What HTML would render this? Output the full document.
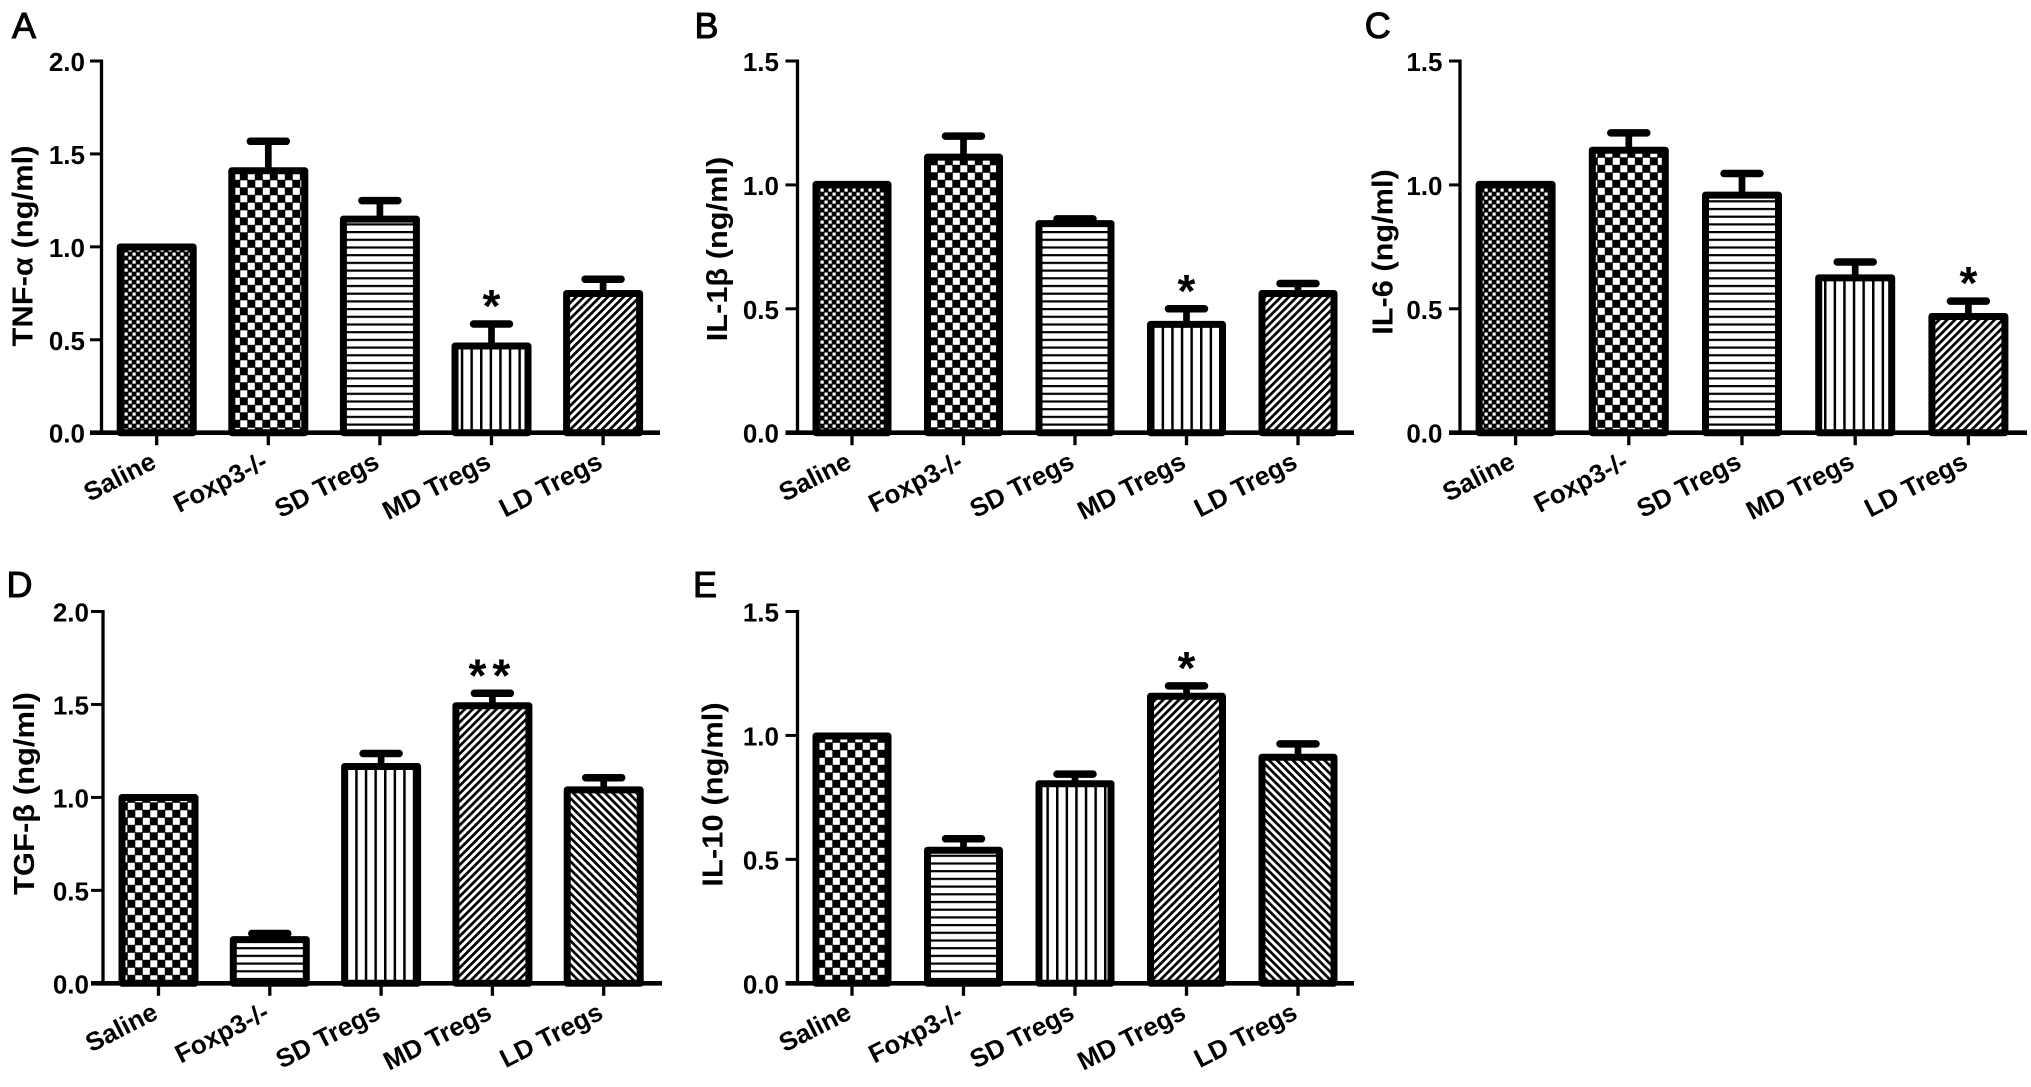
<!DOCTYPE html>
<html lang="en">
<head>
<meta charset="utf-8">
<title>Cytokine levels by treatment group</title>
<style>
html,body{margin:0;padding:0;background:#fff;width:2031px;height:1087px;overflow:hidden}
svg{display:block}
text{font-family:"Liberation Sans",sans-serif;fill:#000}
.tick{font-size:26px;font-weight:bold}
.cat{font-size:26px;font-weight:bold}
.ylab{font-size:29px;font-weight:bold}
.letter{font-size:36px;stroke:#000;stroke-width:1px}
.star{font-size:46px;font-weight:bold}
</style>
</head>
<body>
<svg id="figure" xmlns="http://www.w3.org/2000/svg" width="2031" height="1087" viewBox="0 0 2031 1087">
  <defs>
    <pattern id="fineCheck" patternUnits="userSpaceOnUse" width="8" height="8">
      <rect width="8" height="8" fill="#000"/>
      <rect x="0.5" y="0.5" width="3.2" height="3.2" fill="#fff"/>
      <rect x="4.5" y="4.5" width="3.2" height="3.2" fill="#fff"/>
    </pattern>
    <pattern id="coarseCheck" patternUnits="userSpaceOnUse" width="15" height="15">
      <rect width="15" height="15" fill="#000"/>
      <rect x="0.3" y="0.3" width="7" height="7" fill="#fff"/>
      <rect x="7.8" y="7.8" width="7" height="7" fill="#fff"/>
    </pattern>
    <pattern id="horizontal" patternUnits="userSpaceOnUse" width="10" height="7.7">
      <rect width="10" height="7.7" fill="#fff"/>
      <rect y="0" width="10" height="2.2" fill="#000"/>
    </pattern>
    <pattern id="vertical" patternUnits="userSpaceOnUse" width="9.6" height="10">
      <rect width="9.6" height="10" fill="#fff"/>
      <rect x="0" width="2.5" height="10" fill="#000"/>
    </pattern>
    <pattern id="diagUp" patternUnits="userSpaceOnUse" width="5.6" height="10" patternTransform="rotate(45)">
      <rect width="5.6" height="10" fill="#fff"/>
      <rect width="2.7" height="10" fill="#000"/>
    </pattern>
    <pattern id="diagDown" patternUnits="userSpaceOnUse" width="5.6" height="10" patternTransform="rotate(-45)">
      <rect width="5.6" height="10" fill="#fff"/>
      <rect width="2.7" height="10" fill="#000"/>
    </pattern>
  </defs>
</svg>
<script>
// ---- chart data ----
const categories = ['Saline', 'Foxp3-/-', 'SD Tregs', 'MD Tregs', 'LD Tregs'];

const ticksTo2 = [0, 0.5, 1, 1.5, 2];
const ticksTo15 = [0, 0.5, 1, 1.5];

const meansA = [1.01, 1.42, 1.16, 0.477, 0.76];
const errTopsA = [null, 1.568, 1.249, 0.585, 0.826];
const starsA = ['', '', '', '*', ''];

const meansB = [1.01, 1.12, 0.852, 0.445, 0.57];
const errTopsB = [null, 1.197, 0.863, 0.50, 0.602];
const starsB = ['', '', '', '*', ''];

const meansC = [1.01, 1.148, 0.967, 0.633, 0.477];
const errTopsC = [null, 1.21, 1.046, 0.689, 0.531];
const starsC = ['', '', '', '', '*'];

const meansD = [1.01, 0.246, 1.177, 1.504, 1.051];
const errTopsD = [null, 0.268, 1.236, 1.56, 1.106];
const starsD = ['', '', '', '**', ''];

const meansE = [1.006, 0.545, 0.813, 1.166, 0.92];
const errTopsE = [null, 0.583, 0.844, 1.2, 0.966];
const starsE = ['', '', '', '*', ''];

// ---- panel layout ----
const panels = [
  {id:'a', letter:'A', lx:12, ly:38, title:'TNF-\u03b1 (ng/ml)', tx:32.5, tc:246, tl:201, means:meansA, errs:errTopsA, stars:starsA, ticks:ticksTo2, max:2,
   ax:101.5, top:61, base:432.7, right:660, c0:156.7, step:111.6, bw:80, tickLen:11.5, gap:16.5,
   fills:['fineCheck','coarseCheck','horizontal','vertical','diagUp']},
  {id:'b', letter:'B', lx:694.5, ly:38, title:'IL-1\u03b2 (ng/ml)', tx:727, tc:249, tl:184.5, means:meansB, errs:errTopsB, stars:starsB, ticks:ticksTo15, max:1.5,
   ax:797.5, top:61, base:432.7, right:1354, c0:852, step:111.5, bw:79, tickLen:12, gap:18.5,
   fills:['fineCheck','coarseCheck','horizontal','vertical','diagUp']},
  {id:'c', letter:'C', lx:1364.7, ly:38, title:'IL-6 (ng/ml)', tx:1392.5, tc:252, tl:165.5, means:meansC, errs:errTopsC, stars:starsC, ticks:ticksTo15, max:1.5,
   ax:1460, top:61, base:432.7, right:2027, c0:1515.6, step:113.2, bw:80, tickLen:11, gap:17.5,
   fills:['fineCheck','coarseCheck','horizontal','vertical','diagUp']},
  {id:'d', letter:'D', lx:6.5, ly:597, title:'TGF-\u03b2 (ng/ml)', tx:34, tc:793.5, tl:203, means:meansD, errs:errTopsD, stars:starsD, ticks:ticksTo2, max:2,
   ax:103, top:611.5, base:983.3, right:662, c0:158.5, step:111.3, bw:80, tickLen:12, gap:14,
   fills:['coarseCheck','horizontal','vertical','diagUp','diagDown']},
  {id:'e', letter:'E', lx:693, ly:597, title:'IL-10 (ng/ml)', tx:722.5, tc:794.5, tl:184.5, means:meansE, errs:errTopsE, stars:starsE, ticks:ticksTo15, max:1.5,
   ax:797.5, top:611.5, base:983.3, right:1354, c0:852, step:111.5, bw:79, tickLen:12, gap:18.5,
   fills:['coarseCheck','horizontal','vertical','diagUp','diagDown']}
];

const NS = 'http://www.w3.org/2000/svg';
const figure = document.getElementById('figure');

function make(tag, attrs, parent) {
  const node = document.createElementNS(NS, tag);
  for (const key in attrs) node.setAttribute(key, attrs[key]);
  parent.appendChild(node);
  return node;
}
function yScaleFor(p) {
  return function (v) { return p.base - (v / p.max) * (p.base - p.top); };
}
function xScaleFor(p) {
  return function (i) { return p.c0 + i * p.step; };
}

panels.forEach(function (p) {
  const y = yScaleFor(p);
  const x = xScaleFor(p);

  const g = make('g', {}, figure);
  
  

  const letter = make('text', {x: p.lx, y: p.ly, 'class': 'letter'}, g);
  letter.textContent = p.letter;
  
  

  const title = make('text', {
    x: 0, y: 0, 'class': 'ylab', 'text-anchor': 'middle',
    transform: 'translate(' + p.tx + ',' + p.tc + ') rotate(-90)',
    textLength: p.tl, lengthAdjust: 'spacingAndGlyphs'
  }, g);
  title.textContent = p.title;
  
  

  // bars and error bars
  p.means.forEach(function (m, i) {
    const cx = x(i);
    const sw = 7;
    const e = p.errs[i];
    if (e !== null) {
      const stem = make('line', {x1: cx, x2: cx, y1: y(e), y2: y(m) + 3, stroke: '#000', 'stroke-width': 6.7}, g);
      
      
      const cap = make('line', {x1: cx - 18, x2: cx + 18, y1: y(e), y2: y(e), stroke: '#000', 'stroke-width': 7.5, 'stroke-linecap': 'round'}, g);
      
      
    }
    const barTop = y(m) - 1.5 + sw / 2;
    const bar = make('rect', {
      x: cx - p.bw / 2 + sw / 2,
      y: barTop,
      width: p.bw - sw,
      height: Math.max(0, p.base - barTop),
      fill: 'url(#' + p.fills[i] + ')',
      stroke: '#000',
      'stroke-width': sw,
      'stroke-linejoin': 'round'
    }, g);
    
    

    if (p.stars[i]) {
      const anchorY = y(e !== null ? e : m) - 2;
      const star = make('text', {x: cx, y: anchorY, 'class': 'star', 'text-anchor': 'middle', 'letter-spacing': p.stars[i].length > 1 ? '6' : '0'}, g);
      star.textContent = p.stars[i];
      
      
    }
  });

  // y axis
  const yAxis = make('line', {x1: p.ax, x2: p.ax, y1: p.top - 1.5, y2: p.base, stroke: '#000', 'stroke-width': 3.3}, g);
  
  

  p.ticks.forEach(function (t) {
    const ty = y(t);
    const mark = make('line', {x1: p.ax - p.tickLen, x2: p.ax, y1: ty, y2: ty, stroke: '#000', 'stroke-width': 3}, g);
    
    
    const label = make('text', {x: p.ax - p.gap, y: ty + 10, 'class': 'tick', 'text-anchor': 'end'}, g);
    label.textContent = t.toFixed(1);
    
    
  });

  // x axis
  const xAxis = make('line', {x1: p.ax - p.tickLen, x2: p.right, y1: p.base, y2: p.base, stroke: '#000', 'stroke-width': 4.6}, g);
  
  

  categories.forEach(function (name, i) {
    const cx = x(i);
    const mark = make('line', {x1: cx, x2: cx, y1: p.base, y2: p.base + 12.5, stroke: '#000', 'stroke-width': 3.3}, g);
    
    
    const label = make('text', {
      x: 0, y: 0, 'class': 'cat', 'text-anchor': 'end',
      transform: 'translate(' + (cx + 1) + ',' + (p.base + 34.5) + ') rotate(-27)'
    }, g);
    label.textContent = name;
    
    
  });
});
</script>
</body>
</html>
